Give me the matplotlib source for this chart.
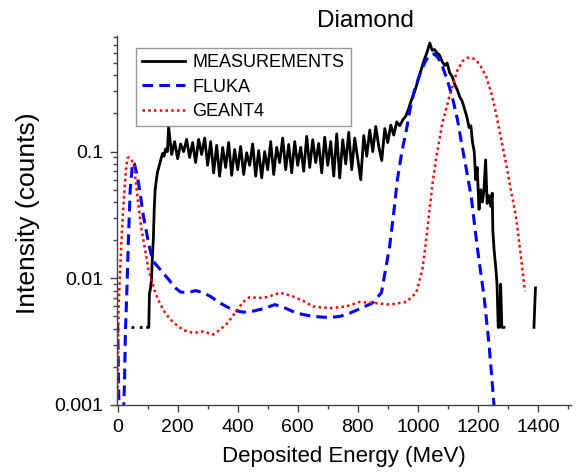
import numpy as np
import matplotlib
matplotlib.use("Agg")
import matplotlib.pyplot as plt
from matplotlib.ticker import LogLocator, FixedLocator, MultipleLocator, NullFormatter

plt.rcParams['font.family'] = ['Liberation Sans', 'DejaVu Sans']

# measured spectrum (MeV, counts); nan = empty bins
meas_floor_e = [45, 100]
meas_floor_v = [0.0041, 0.0041]

meas_e = [100, 104, 106, 110, 113, 116, 119, 122, 125, 130, 133, 137, 141, 146, 150, 155, 160, 166,
          170, 180, 190, 200, 210, 220, 230, 240, 250, 260, 270, 280, 290, 300, 310, 320, 330, 340,
          350, 360, 370, 380, 390, 400, 410, 420, 430, 440, 450, 460, 470, 480, 490, 500, 510, 520,
          530, 540, 550, 560, 570, 580, 590, 600, 610, 620, 630, 640, 650, 660, 670, 680, 690, 700,
          710, 720, 730, 740, 750, 760, 770, 780, 790, 800, 810, 820, 830, 840, 850, 860, 870, 880,
          890, 900, 910, 920, 930, 940, 950, 960, 970, 980, 990, 1000, 1010, 1020, 1030, 1040, 1048,
          1056, 1064, 1072, 1082, 1090, 1098, 1106, 1115, 1123, 1131, 1140, 1148, 1155, 1163, 1171,
          1177, 1182, 1188, 1193, 1198, 1204, 1210, 1215, 1220, 1226, 1231, 1237, 1243, 1248, 1250,
          1254, 1260, 1264, 1268, 1272, 1276, 1280, 1287, 1330, 1387, 1392]
meas_v = [0.0041, 0.0041, 0.0075, 0.0085, 0.0097, 0.015, 0.02, 0.035, 0.05, 0.062, 0.069, 0.075,
          0.081, 0.09, 0.097, 0.092, 0.105, 0.1,
          0.157, 0.095, 0.12, 0.088, 0.115, 0.1, 0.125, 0.09, 0.118, 0.082, 0.125, 0.095, 0.128,
          0.078, 0.12, 0.068, 0.112, 0.064, 0.108, 0.075, 0.118, 0.065, 0.104, 0.072, 0.11, 0.066,
          0.098, 0.078, 0.115, 0.064, 0.102, 0.062, 0.1, 0.072, 0.12, 0.066, 0.108, 0.082, 0.128,
          0.072, 0.114, 0.068, 0.12, 0.078, 0.108, 0.07, 0.132, 0.075, 0.124, 0.082, 0.116, 0.068,
          0.13, 0.078, 0.12, 0.064, 0.138, 0.062, 0.124, 0.08, 0.142, 0.072, 0.128, 0.088, 0.06,
          0.134, 0.092, 0.148, 0.1, 0.158, 0.11, 0.085, 0.152, 0.118, 0.162, 0.135, 0.172, 0.16,
          0.178, 0.19, 0.22, 0.26, 0.3, 0.36, 0.43, 0.52, 0.6, 0.72, 0.63, 0.64, 0.6, 0.58, 0.51,
          0.48, 0.5, 0.42, 0.39, 0.34, 0.31, 0.27, 0.25, 0.22, 0.19, 0.155, 0.16, 0.12, 0.1, 0.06,
          0.075, 0.035, 0.05, 0.04, 0.048, 0.086, 0.039, 0.045, 0.037, 0.047, 0.024, 0.017, 0.012,
          0.009, 0.0041, 0.0041, 0.009, 0.0041, 0.0041, np.nan, 0.0041, 0.0084]

fluka_e = [0, 4, 8, 20, 23, 26, 31, 36, 42, 50, 56, 62, 70, 78, 86, 95, 103, 112, 120, 145, 170,
           190, 209, 235, 259, 285, 309, 340, 385, 420, 451, 490, 524, 560, 597, 650, 707, 740,
           773, 810, 850, 879, 906, 920, 932, 947, 962, 975, 989, 1010, 1028, 1042, 1055, 1068,
           1082, 1098, 1115, 1132, 1148, 1163, 1178, 1198, 1221, 1238, 1254, 1260]
fluka_v = [0.0045, 0.0012, 0.0005, 0.0009, 0.0015, 0.0037, 0.0081, 0.02, 0.05, 0.082, 0.08, 0.07,
           0.056, 0.042, 0.031, 0.024, 0.019, 0.0155, 0.0135, 0.0115, 0.0098, 0.0085, 0.0078,
           0.0077, 0.008, 0.0077, 0.0072, 0.0064, 0.0056, 0.0054, 0.0055, 0.0058, 0.0062, 0.0058,
           0.0053, 0.005, 0.0049, 0.005, 0.0053, 0.0058, 0.0064, 0.0077, 0.0177, 0.033, 0.06, 0.1,
           0.148, 0.22, 0.306, 0.43, 0.53, 0.58, 0.59, 0.55, 0.47, 0.37, 0.27, 0.18, 0.109, 0.07,
           0.044, 0.0177, 0.0071, 0.0029, 0.001, 0.0007]

geant_e = [0, 3, 8, 13, 18, 23, 28, 33, 38, 45, 53, 60, 70, 80, 92, 102, 113, 125, 140, 159, 185,
           219, 252, 286, 318, 340, 365, 398, 418, 440, 470, 498, 541, 584, 620, 651, 707, 762,
           806, 850, 906, 962, 995, 1015, 1028, 1038, 1050, 1062, 1082, 1105, 1132, 1150, 1165,
           1180, 1194, 1210, 1228, 1245, 1261, 1278, 1294, 1310, 1327, 1342, 1357]
geant_v = [0.0011, 0.0056, 0.011, 0.02, 0.033, 0.05, 0.072, 0.089, 0.09, 0.087, 0.081, 0.06,
           0.037, 0.024, 0.0167, 0.012, 0.0097, 0.0078, 0.0064, 0.0053, 0.0045, 0.0039, 0.0037,
           0.0038, 0.0036, 0.0039, 0.0044, 0.0056, 0.0065, 0.0071, 0.007, 0.0071, 0.0077, 0.0072,
           0.0066, 0.006, 0.0058, 0.006, 0.0065, 0.0064, 0.0062, 0.0065, 0.0077, 0.0116, 0.02,
           0.033, 0.058, 0.091, 0.168, 0.27, 0.44, 0.52, 0.55, 0.55, 0.53, 0.47, 0.39, 0.29, 0.2,
           0.125, 0.081, 0.05, 0.031, 0.016, 0.0079]

fig = plt.figure(figsize=(5.76, 4.72), dpi=100)
ax = fig.add_axes([0.2031, 0.142, 0.788, 0.782])

ax.plot(meas_floor_e, meas_floor_v, color='black', lw=2.0, ls=(0, (1, 2)))
ax.plot(meas_e, meas_v, color='black', lw=2.0, label='MEASUREMENTS')
ax.plot(fluka_e, fluka_v, color='#0000ff', lw=2.2, ls=(0, (3.5, 2)), label='FLUKA')
ax.plot(geant_e, geant_v, color='#ff0000', lw=1.8, ls=(0, (1, 1.3)), label='GEANT4')

ax.set_yscale('log')
ax.set_xlim(-2, 1510)
ax.set_ylim(0.001, 0.82)

ax.xaxis.set_major_locator(MultipleLocator(200))
ax.xaxis.set_minor_locator(MultipleLocator(100))
ax.yaxis.set_major_locator(FixedLocator([0.001, 0.01, 0.1]))
ax.yaxis.set_major_formatter(plt.FuncFormatter(lambda v, p: f"{v:g}"))
ax.yaxis.set_minor_locator(LogLocator(base=10, subs=np.arange(2, 10)))
ax.yaxis.set_minor_formatter(NullFormatter())

for s in ['top', 'right']:
    ax.spines[s].set_visible(False)
for s in ['left', 'bottom']:
    ax.spines[s].set_color('#444444')
    ax.spines[s].set_linewidth(1.0)

ax.tick_params(which='major', direction='out', length=5, width=1, color='#444444',
               labelsize=14, pad=5)
ax.tick_params(which='minor', direction='out', length=3, width=1, color='#444444')

ax.set_xlabel('Deposited Energy (MeV)', fontsize=16, labelpad=7)
ax.set_ylabel('Intensity (counts)', fontsize=19)
ax.yaxis.set_label_coords(-0.17, 0.52)
fig.text(365 / 576, 1 - 21 / 472, 'Diamond', fontsize=17.5, ha='center', va='center')

leg = ax.legend(loc='upper left', bbox_to_anchor=(0.041, 0.968), fontsize=13,
                frameon=True, fancybox=False, edgecolor='#808080', borderaxespad=0,
                handlelength=2.4, handletextpad=0.4, labelspacing=0.42, borderpad=0.35)
leg.get_frame().set_linewidth(1.0)

fig.savefig('out.png', dpi=100)
